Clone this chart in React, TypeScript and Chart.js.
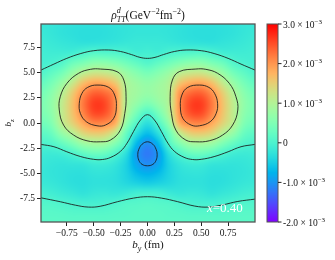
import React, { useEffect, useRef } from 'react';
import { Chart, registerables } from 'chart.js';

Chart.register(...registerables);

const FONT = '"Liberation Serif", "Times New Roman", serif';

// grid of the density, units of 1e-3 GeV^-2 fm^-2
const byGrid = [-1.0, -0.9, -0.8, -0.7, -0.6, -0.5, -0.4, -0.3, -0.2, -0.1, 0.0, 0.1, 0.2, 0.3, 0.4, 0.5, 0.6, 0.7, 0.8, 0.9, 1.0];
const bzGrid = [10, 9, 8, 7, 6, 5, 4, 3, 2, 1, 0, -1, -2, -3, -4, -5, -6, -7, -8, -9, -10];
const rhoRows = [
  [-0.2, -0.22, -0.25, -0.27, -0.28, -0.28, -0.27, -0.25, -0.23, -0.22, -0.22, -0.22, -0.23, -0.25, -0.27, -0.28, -0.28, -0.27, -0.25, -0.22, -0.2],
  [-0.18, -0.22, -0.27, -0.3, -0.32, -0.32, -0.31, -0.28, -0.25, -0.23, -0.23, -0.23, -0.25, -0.28, -0.31, -0.32, -0.32, -0.3, -0.27, -0.22, -0.18],
  [-0.14, -0.18, -0.22, -0.25, -0.28, -0.27, -0.25, -0.23, -0.2, -0.18, -0.18, -0.18, -0.2, -0.23, -0.25, -0.27, -0.28, -0.25, -0.22, -0.18, -0.14],
  [-0.1, -0.12, -0.12, -0.1, 0.0, 0.08, 0.06, 0.04, -0.01, -0.1, -0.08, -0.1, -0.01, 0.04, 0.06, 0.08, 0.0, -0.1, -0.12, -0.12, -0.1],
  [-0.07, -0.03, 0.06, 0.3, 0.45, 0.6, 0.6, 0.5, 0.35, 0.2, 0.08, 0.2, 0.35, 0.5, 0.6, 0.6, 0.45, 0.3, 0.06, -0.03, -0.07],
  [0.03, 0.18, 0.38, 0.72, 1.03, 1.2, 1.18, 1.05, 0.75, 0.55, 0.42, 0.55, 0.75, 1.05, 1.18, 1.2, 1.03, 0.72, 0.38, 0.18, 0.03],
  [0.22, 0.4, 0.72, 1.15, 1.62, 1.85, 1.8, 1.55, 0.98, 0.78, 0.68, 0.78, 0.98, 1.55, 1.8, 1.85, 1.62, 1.15, 0.72, 0.4, 0.22],
  [0.38, 0.58, 0.98, 1.5, 2.03, 2.35, 2.3, 1.97, 1.03, 0.82, 0.72, 0.82, 1.03, 1.97, 2.3, 2.35, 2.03, 1.5, 0.98, 0.58, 0.38],
  [0.46, 0.66, 1.1, 1.62, 2.2, 2.6, 2.55, 2.05, 1.03, 0.7, 0.5, 0.7, 1.03, 2.05, 2.55, 2.6, 2.2, 1.62, 1.1, 0.66, 0.46],
  [0.45, 0.62, 1.1, 1.6, 2.12, 2.52, 2.48, 2.02, 0.98, 0.4, 0.06, 0.4, 0.98, 2.02, 2.48, 2.52, 2.12, 1.6, 1.1, 0.62, 0.45],
  [0.35, 0.5, 1.05, 1.45, 1.85, 2.12, 2.08, 1.8, 0.7, 0.07, -0.3, 0.07, 0.7, 1.8, 2.08, 2.12, 1.85, 1.45, 1.05, 0.5, 0.35],
  [0.17, 0.28, 0.7, 1.03, 1.4, 1.55, 1.5, 1.12, 0.3, -0.3, -0.65, -0.3, 0.3, 1.12, 1.5, 1.55, 1.4, 1.03, 0.7, 0.28, 0.17],
  [0.02, 0.06, 0.25, 0.5, 0.8, 0.9, 0.87, 0.55, 0.07, -0.7, -1.05, -0.7, 0.07, 0.55, 0.87, 0.9, 0.8, 0.5, 0.25, 0.06, 0.02],
  [-0.12, -0.14, -0.1, 0.02, 0.2, 0.32, 0.28, 0.06, -0.3, -0.95, -1.2, -0.95, -0.3, 0.06, 0.28, 0.32, 0.2, 0.02, -0.1, -0.14, -0.12],
  [-0.18, -0.22, -0.24, -0.22, -0.2, -0.12, -0.12, -0.22, -0.45, -0.88, -1.07, -0.88, -0.45, -0.22, -0.12, -0.12, -0.2, -0.22, -0.24, -0.22, -0.18],
  [-0.2, -0.24, -0.27, -0.3, -0.3, -0.25, -0.25, -0.3, -0.45, -0.68, -0.78, -0.68, -0.45, -0.3, -0.25, -0.25, -0.3, -0.3, -0.27, -0.24, -0.2],
  [-0.17, -0.2, -0.25, -0.3, -0.32, -0.28, -0.28, -0.3, -0.38, -0.45, -0.5, -0.45, -0.38, -0.3, -0.28, -0.28, -0.32, -0.3, -0.25, -0.2, -0.17],
  [-0.05, -0.09, -0.15, -0.2, -0.25, -0.2, -0.18, -0.2, -0.15, -0.07, -0.05, -0.07, -0.15, -0.2, -0.18, -0.2, -0.25, -0.2, -0.15, -0.09, -0.06],
  [0.07, 0.06, 0.02, -0.02, -0.05, -0.05, -0.03, 0.02, 0.08, 0.1, 0.12, 0.1, 0.08, 0.02, -0.03, -0.05, -0.05, -0.02, 0.02, 0.05, 0.05],
  [0.13, 0.13, 0.12, 0.1, 0.1, 0.1, 0.1, 0.12, 0.13, 0.15, 0.15, 0.15, 0.13, 0.12, 0.1, 0.1, 0.1, 0.1, 0.12, 0.13, 0.13],
  [0.15, 0.15, 0.15, 0.15, 0.15, 0.15, 0.15, 0.15, 0.15, 0.15, 0.15, 0.15, 0.15, 0.15, 0.15, 0.15, 0.15, 0.15, 0.15, 0.15, 0.15],
];

const cbMin = -2;
const cbMax = 3;
const xTickValues = [-0.75, -0.5, -0.25, 0, 0.25, 0.5, 0.75];
const yTickValues = [-7.5, -5, -2.5, 0, 2.5, 5, 7.5];
const cbTickValues = [3, 2, 1, 0, -1, -2];
const cbTickLabels = ['3.0', '2.0', '1.0', '0', '-1.0', '-2.0'];

// contour lines (by, bz)
const zeroTop = [[-0.99, 5.26], [-0.87, 5.85], [-0.75, 6.42], [-0.62, 6.9], [-0.5, 7.18], [-0.36, 7.25], [-0.25, 7.1], [-0.15, 6.8], [-0.07, 6.52], [0, 6.42], [0.07, 6.52], [0.15, 6.8], [0.25, 7.1], [0.36, 7.25], [0.5, 7.18], [0.62, 6.9], [0.75, 6.42], [0.87, 5.85], [1.0, 5.26]];
const zeroMid = [[-0.99, -2.12], [-0.87, -2.35], [-0.75, -2.85], [-0.62, -3.33], [-0.5, -3.6], [-0.42, -3.62], [-0.34, -3.4], [-0.25, -2.8], [-0.19, -2.0], [-0.13, -0.85], [-0.065, 0.3], [0, 0.83], [0.065, 0.3], [0.13, -0.85], [0.19, -2.0], [0.25, -2.8], [0.34, -3.4], [0.42, -3.62], [0.5, -3.6], [0.62, -3.33], [0.75, -2.85], [0.87, -2.35], [1.0, -2.12]];
const zeroBottom = [[-0.99, -7.42], [-0.81, -7.81], [-0.67, -8.15], [-0.55, -8.34], [-0.44, -8.26], [-0.28, -7.81], [-0.13, -7.45], [0, -7.31], [0.13, -7.45], [0.28, -7.8], [0.44, -8.24], [0.57, -8.34], [0.7, -8.12], [0.84, -7.78], [1.0, -7.55]];
const oneLeft = [[-0.438, 5.36], [-0.283, 5.1], [-0.22, 4.27], [-0.199, 2.61], [-0.211, 0.96], [-0.252, -0.7], [-0.345, -1.69], [-0.438, -1.86], [-0.562, -1.76], [-0.687, -1.19], [-0.78, -0.2], [-0.82, 1.29], [-0.811, 2.61], [-0.749, 3.94], [-0.64, 4.94], [-0.531, 5.33]];
const oneRight = [[0.45, 5.36], [0.295, 5.1], [0.232, 4.27], [0.211, 2.61], [0.223, 0.96], [0.264, -0.7], [0.357, -1.69], [0.45, -1.86], [0.574, -1.76], [0.699, -1.19], [0.792, -0.2], [0.84, 1.29], [0.823, 2.61], [0.761, 3.94], [0.652, 4.94], [0.543, 5.33]];
const twoLeft = [[-0.469, 3.77], [-0.36, 3.54], [-0.305, 2.78], [-0.289, 1.62], [-0.314, 0.47], [-0.391, -0.2], [-0.469, -0.27], [-0.568, 0.13], [-0.624, 0.96], [-0.634, 1.96], [-0.609, 2.95], [-0.556, 3.54]];
const twoRight = [[0.484, 3.77], [0.375, 3.54], [0.32, 2.78], [0.306, 1.62], [0.329, 0.47], [0.406, -0.2], [0.484, -0.27], [0.583, 0.13], [0.639, 0.96], [0.652, 1.96], [0.624, 2.95], [0.571, 3.54]];
const minusOne = [[0, -1.86], [0.05, -2.1], [0.08, -2.6], [0.09, -3.1], [0.08, -3.7], [0.05, -4.1], [0, -4.24], [-0.05, -4.1], [-0.08, -3.7], [-0.09, -3.1], [-0.08, -2.6], [-0.05, -2.1]];

const clamp01 = (v: number) => Math.max(0, Math.min(1, v));
function rainbow(v: number): [number, number, number] {
  const x = clamp01((v - cbMin) / (cbMax - cbMin));
  const r = clamp01(Math.abs(2 * x - 0.5));
  const g = clamp01(Math.sin(Math.PI * x));
  const b = clamp01(Math.cos((Math.PI * x) / 2));
  return [Math.round(r * 255), Math.round(g * 255), Math.round(b * 255)];
}

function cr(p0: number, p1: number, p2: number, p3: number, t: number) {
  return 0.5 * (2 * p1 + (-p0 + p2) * t + (2 * p0 - 5 * p1 + 4 * p2 - p3) * t * t + (-p0 + 3 * p1 - 3 * p2 + p3) * t * t * t);
}
function sampleGrid(fi: number, fj: number) {
  const nI = byGrid.length, nJ = bzGrid.length;
  fi = Math.max(0, Math.min(nI - 1, fi));
  fj = Math.max(0, Math.min(nJ - 1, fj));
  const i1 = Math.min(nI - 2, Math.floor(fi)), j1 = Math.min(nJ - 2, Math.floor(fj));
  const t = fi - i1, u = fj - j1;
  const ci = (i: number) => Math.max(0, Math.min(nI - 1, i));
  const cj = (j: number) => Math.max(0, Math.min(nJ - 1, j));
  const col: number[] = [];
  for (let k = -1; k <= 2; k++) {
    const row = rhoRows[cj(j1 + k)];
    col.push(cr(row[ci(i1 - 1)], row[ci(i1)], row[ci(i1 + 1)], row[ci(i1 + 2)], t));
  }
  return cr(col[0], col[1], col[2], col[3], u);
}

type Part = { t: string; s: number; it?: boolean; dy?: number; stack?: Part };
function partWidth(ctx: CanvasRenderingContext2D, p: Part) {
  ctx.font = `${p.it ? 'italic ' : ''}${p.s}px ${FONT}`;
  let w = ctx.measureText(p.t).width;
  if (p.stack) {
    ctx.font = `${p.stack.it ? 'italic ' : ''}${p.stack.s}px ${FONT}`;
    w = Math.max(w, ctx.measureText(p.stack.t).width);
  }
  return w;
}
function drawRich(ctx: CanvasRenderingContext2D, parts: Part[], x: number, y: number, align: 'left' | 'center', color: string) {
  let total = 0;
  for (const p of parts) total += partWidth(ctx, p);
  let cx = align === 'center' ? x - total / 2 : x;
  ctx.fillStyle = color;
  ctx.textAlign = 'left';
  ctx.textBaseline = 'alphabetic';
  for (const p of parts) {
    const w = partWidth(ctx, p);
    ctx.font = `${p.it ? 'italic ' : ''}${p.s}px ${FONT}`;
    ctx.fillText(p.t, cx, y + (p.dy || 0));
    if (p.stack) {
      ctx.font = `${p.stack.it ? 'italic ' : ''}${p.stack.s}px ${FONT}`;
      ctx.fillText(p.stack.t, cx, y + (p.stack.dy || 0));
    }
    cx += w;
  }
}

const heatmapPlugin = {
  id: 'heatmap',
  beforeDatasetsDraw(chart: any) {
    const { ctx, chartArea: a, scales } = chart;
    const xs = scales.x, ys = scales.y;
    const w = Math.round(a.right - a.left), h = Math.round(a.bottom - a.top);
    const off = document.createElement('canvas');
    off.width = w; off.height = h;
    const octx = off.getContext('2d')!;
    const img = octx.createImageData(w, h);
    const dx = byGrid[1] - byGrid[0], dz = bzGrid[1] - bzGrid[0];
    for (let py = 0; py < h; py++) {
      const bz = ys.getValueForPixel(a.top + py + 0.5);
      const fj = (bz - bzGrid[0]) / dz;
      for (let px = 0; px < w; px++) {
        const by = xs.getValueForPixel(a.left + px + 0.5);
        const fi = (by - byGrid[0]) / dx;
        const [r, g, b] = rainbow(sampleGrid(fi, fj));
        const k = (py * w + px) * 4;
        img.data[k] = r; img.data[k + 1] = g; img.data[k + 2] = b; img.data[k + 3] = 255;
      }
    }
    octx.putImageData(img, 0, 0);
    ctx.drawImage(off, a.left, a.top);
  },
};

const loopPlugin = {
  id: 'loops',
  afterDatasetUpdate(chart: any, args: any) {
    const ds = chart.data.datasets[args.index];
    if (ds && ds.closedLoop && args.meta.dataset) {
      args.meta.dataset._loop = true;
      args.meta.dataset._fullLoop = true;
    }
  },
};

const decorPlugin = {
  id: 'decor',
  afterDraw(chart: any) {
    const { ctx, chartArea: a } = chart;
    ctx.save();
    // frame
    ctx.strokeStyle = '#555';
    ctx.lineWidth = 1.3;
    ctx.strokeRect(a.left, a.top, a.right - a.left, a.bottom - a.top);
    // in-plot label
    drawRich(ctx, [{ t: 'x', s: 13, it: true }, { t: '=0.40', s: 13 }], a.left + 166, a.top + 188, 'left', '#ffffff');
    // title
    const cxm = (a.left + a.right) / 2;
    drawRich(ctx, [
      { t: 'ρ', s: 11.5, it: true },
      { t: 'd', s: 8, it: true, dy: -5.5, stack: { t: 'TT', s: 8, it: true, dy: 3 } },
      { t: '(GeV', s: 11.5 },
      { t: '−2', s: 8, dy: -5 },
      { t: 'fm', s: 11.5 },
      { t: '−2', s: 8, dy: -5 },
      { t: ')', s: 11.5 },
    ], cxm, 18.5, 'center', '#111');
    // x axis title
    drawRich(ctx, [{ t: 'b', s: 11, it: true }, { t: 'y', s: 8, it: true, dy: 3 }, { t: ' (fm)', s: 11 }], cxm, 248, 'center', '#111');
    // y axis title
    ctx.save();
    ctx.translate(11, (a.top + a.bottom) / 2);
    ctx.rotate(-Math.PI / 2);
    drawRich(ctx, [{ t: 'b', s: 9, it: true }, { t: 'z', s: 7, it: true, dy: 2.5 }], 0, 0, 'center', '#111');
    ctx.restore();
    // colorbar
    const cbL = a.right + 12, cbR = a.right + 23;
    const top = a.top, bot = a.bottom;
    for (let y = top; y < bot; y++) {
      const v = cbMax - ((y + 0.5 - top) / (bot - top)) * (cbMax - cbMin);
      const [r, g, b] = rainbow(v);
      ctx.fillStyle = `rgb(${r},${g},${b})`;
      ctx.fillRect(cbL, y, cbR - cbL, 1);
    }
    ctx.strokeStyle = '#555';
    ctx.lineWidth = 1;
    ctx.strokeRect(cbL, top, cbR - cbL, bot - top);
    ctx.strokeStyle = '#222';
    cbTickValues.forEach((v, i) => {
      const y = top + ((cbMax - v) / (cbMax - cbMin)) * (bot - top);
      ctx.beginPath();
      ctx.moveTo(cbR, y);
      ctx.lineTo(cbR + 3.5, y);
      ctx.stroke();
      const lab = cbTickLabels[i];
      const parts: Part[] = lab === '0' ? [{ t: '0', s: 9.5 }] : [{ t: lab + ' × 10', s: 9.5 }, { t: '−3', s: 7, dy: -4 }];
      drawRich(ctx, parts, cbR + 5, y + 3.5, 'left', '#111');
    });
    ctx.restore();
  },
};

const toPts = (arr: number[][]) => arr.map((p) => ({ x: p[0], y: p[1] }));

export default function App() {
  const ref = useRef<HTMLCanvasElement | null>(null);
  useEffect(() => {
    if (!ref.current) return;
    const lineStyle = { showLine: true, pointRadius: 0, borderColor: 'rgba(25,25,25,0.85)', borderWidth: 1, tension: 0.4, fill: false };
    const chart = new Chart(ref.current, {
      type: 'scatter',
      data: {
        datasets: [
          { data: toPts(zeroTop), ...lineStyle },
          { data: toPts(zeroMid), ...lineStyle },
          { data: toPts(zeroBottom), ...lineStyle },
          { data: toPts(oneLeft), ...lineStyle, closedLoop: true },
          { data: toPts(oneRight), ...lineStyle, closedLoop: true },
          { data: toPts(twoLeft), ...lineStyle, closedLoop: true },
          { data: toPts(twoRight), ...lineStyle, closedLoop: true },
          { data: toPts(minusOne), ...lineStyle, closedLoop: true },
        ] as any,
      },
      options: {
        responsive: false,
        animation: false,
        devicePixelRatio: 1,
        events: [],
        layout: { padding: { top: 24, right: 80, left: 0, bottom: 0 } },
        plugins: { legend: { display: false }, tooltip: { enabled: false }, title: { display: false } },
        scales: {
          x: {
            type: 'linear',
            min: -0.99,
            max: 1.0,
            afterBuildTicks: (s: any) => { s.ticks = xTickValues.map((v) => ({ value: v })); },
            afterFit: (s: any) => { s.height = 38; },
            ticks: {
              callback: (v: any) => (Number(v) < 0 ? '−' : '') + Math.abs(Number(v)).toFixed(2),
              font: { family: FONT, size: 9.5 },
              color: '#111',
              padding: 2,
              maxRotation: 0,
              autoSkip: false,
            },
            grid: { display: true, drawOnChartArea: false, tickLength: 4, color: '#222', lineWidth: 1 },
            border: { display: false },
          },
          y: {
            type: 'linear',
            min: -9.82,
            max: 9.83,
            afterBuildTicks: (s: any) => { s.ticks = yTickValues.map((v) => ({ value: v })); },
            afterFit: (s: any) => { s.width = 41; },
            ticks: {
              callback: (v: any) => Number(v).toFixed(1),
              font: { family: FONT, size: 9.5 },
              color: '#111',
              padding: 2,
              autoSkip: false,
            },
            grid: { display: true, drawOnChartArea: false, tickLength: 4, color: '#222', lineWidth: 1 },
            border: { display: false },
          },
        },
      } as any,
      plugins: [heatmapPlugin, loopPlugin, decorPlugin],
    });
    return () => chart.destroy();
  }, []);
  return (
    <div style={{ position: 'absolute', left: 0, top: 0, width: 335, height: 260, background: '#fff' }}>
      <canvas ref={ref} width={335} height={260} style={{ width: 335, height: 260, display: 'block' }} />
    </div>
  );
}
